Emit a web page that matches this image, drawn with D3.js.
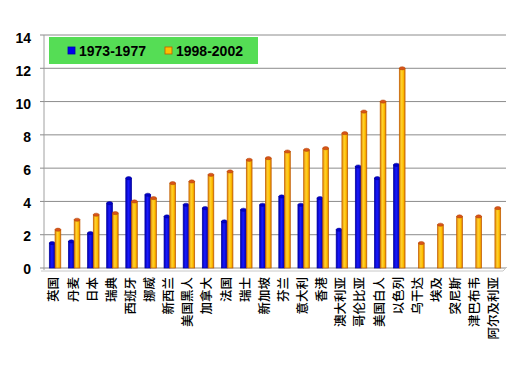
<!DOCTYPE html>
<html>
<head>
<meta charset="utf-8">
<script src="https://cdn.jsdelivr.net/npm/d3@7"></script>
<style>
  body { margin: 0; background: #fff; }
  svg { display: block; }
  .tick-label { font-family: "Liberation Sans", Arial, sans-serif; font-weight: bold; font-size: 14px; }
  .cat-label { font-family: "Noto Sans CJK SC", sans-serif; font-size: 12.5px; font-weight: 500; }
  .legend-text { font-family: "Liberation Sans", Arial, sans-serif; font-weight: bold; font-size: 14px; }
</style>
</head>
<body>
<div class="chart"></div>
<script>
// Data
const countries = ["英国", "丹麦", "日本", "瑞典", "西班牙", "挪威", "新西兰", "美国黑人", "加拿大", "法国",
  "瑞士", "新加坡", "芬兰", "意大利", "香港", "澳大利亚", "哥伦比亚", "美国白人", "以色列",
  "乌干达", "埃及", "突尼斯", "津巴布韦", "阿尔及利亚"];
const series = ["1973-1977", "1998-2002"];
const early = [1.5, 1.6, 2.1, 3.9, 5.4, 4.4, 3.1, 3.8, 3.6, 2.8,
  3.5, 3.8, 4.3, 3.8, 4.2, 2.3, 6.1, 5.4, 6.2,
  null, null, null, null, null];
const late = [2.3, 2.9, 3.2, 3.3, 4.0, 4.2, 5.1, 5.2, 5.6, 5.8,
  6.5, 6.6, 7.0, 7.1, 7.2, 8.1, 9.4, 10.0, 12.0,
  1.5, 2.6, 3.1, 3.1, 3.6];
const yTicks = [0, 2, 4, 6, 8, 10, 12, 14];

const width = 522, height = 365;

const svg = d3.select(".chart").append("svg")
    .attr("width", width)
    .attr("height", height);

const x = d3.scaleBand().domain(countries).range([44, 503]);
const x1 = d3.scaleBand().domain(series).range([5.3, 16.8]);
const y = d3.scaleLinear().domain([0, 14]).range([268, 35]);
// labels follow the front plane of the 3D plot
const yLab = d3.scaleLinear().domain([0, 14]).range([269, 38]);

// gradients for the cylinder look
const defs = svg.append("defs");
function cyl(id, stops) {
  const g = defs.append("linearGradient").attr("id", id)
      .attr("x1", "0%").attr("x2", "100%").attr("y1", "0%").attr("y2", "0%");
  stops.forEach(s => g.append("stop").attr("offset", s[0]).attr("stop-color", s[1]));
}
cyl("gBlue", [["0%", "#0000b0"], ["45%", "#1a1aff"], ["100%", "#0000a8"]]);
cyl("gOrange", [["0%", "#e08a00"], ["40%", "#ffd030"], ["70%", "#ffc000"], ["100%", "#d87800"]]);

// back wall grid
svg.append("g").selectAll("line")
  .data(yTicks)
  .join("line")
    .attr("x1", 44).attr("x2", 506)
    .attr("y1", d => y(d)).attr("y2", d => y(d))
    .attr("stroke", "#8c8c8c")
    .attr("stroke-width", 1);

svg.append("line")
    .attr("x1", 44).attr("x2", 44)
    .attr("y1", y(14)).attr("y2", y(0) + 2)
    .attr("stroke", "#a0a0a0");

// floor edge
svg.append("path")
    .attr("d", `M41,${y(0) + 3}L503,${y(0) + 3}L507,${y(0) - 1}`)
    .attr("fill", "none")
    .attr("stroke", "#c8c8c8");

// y ticks + labels
svg.append("g").selectAll("line")
  .data(yTicks)
  .join("line")
    .attr("x1", 40).attr("x2", 44)
    .attr("y1", d => y(d)).attr("y2", d => y(d))
    .attr("stroke", "#8c8c8c");

svg.append("g").selectAll("text")
  .data(yTicks)
  .join("text")
    .attr("class", "tick-label")
    .attr("x", 31)
    .attr("y", d => yLab(d))
    .attr("dy", "0.35em")
    .attr("text-anchor", "end")
    .text(d => d);

// bars
const rows = countries.map((c, i) => ({ c, vals: [early[i], late[i]] }));
const groups = svg.append("g").selectAll("g")
  .data(rows)
  .join("g")
    .attr("transform", d => `translate(${x(d.c)},0)`);

const bars = groups.selectAll("g")
  .data(d => series.map((s, k) => ({ s, v: d.vals[k] })).filter(e => e.v != null))
  .join("g");

bars.append("rect")
    .attr("x", d => x1(d.s))
    .attr("y", d => y(d.v))
    .attr("width", x1.bandwidth())
    .attr("height", d => y(0) - y(d.v))
    .attr("fill", d => d.s === series[0] ? "url(#gBlue)" : "url(#gOrange)")
    .attr("stroke", d => d.s === series[0] ? "#0000a0" : "#c05a00")
    .attr("stroke-width", 0.7);

bars.append("ellipse")
    .attr("cx", d => x1(d.s) + x1.bandwidth() / 2)
    .attr("cy", d => y(d.v))
    .attr("rx", x1.bandwidth() / 2)
    .attr("ry", 1.6)
    .attr("fill", d => d.s === series[0] ? "#0000cc" : "#d8541a")
    .attr("stroke", d => d.s === series[0] ? "#00008a" : "#b04000")
    .attr("stroke-width", 0.5);

// category labels
svg.append("g").selectAll("text")
  .data(countries)
  .join("text")
    .attr("class", "cat-label")
    .attr("transform", d => `translate(${x(d) + x.bandwidth() / 2 + 0.5},277) rotate(-90)`)
    .attr("text-anchor", "end")
    .attr("dy", "0.35em")
    .text(d => d);

// legend
const legend = svg.append("g");
legend.append("rect")
    .attr("x", 49).attr("y", 37)
    .attr("width", 209).attr("height", 27)
    .attr("fill", "#55dd55");

const legendItems = [
  { s: series[0], x: 68, fill: "#0000ee", stroke: "#0000aa" },
  { s: series[1], x: 165, fill: "#ffc000", stroke: "#c05a00" }
];
legendItems.forEach(it => {
  legend.append("rect")
      .attr("x", it.x).attr("y", 47)
      .attr("width", 7).attr("height", 7)
      .attr("fill", it.fill)
      .attr("stroke", it.stroke)
      .attr("stroke-width", 0.8);
  legend.append("text")
      .attr("class", "legend-text")
      .attr("x", it.x + 11).attr("y", 51)
      .attr("dy", "0.35em")
      .text(it.s);
});
</script>
</body>
</html>
